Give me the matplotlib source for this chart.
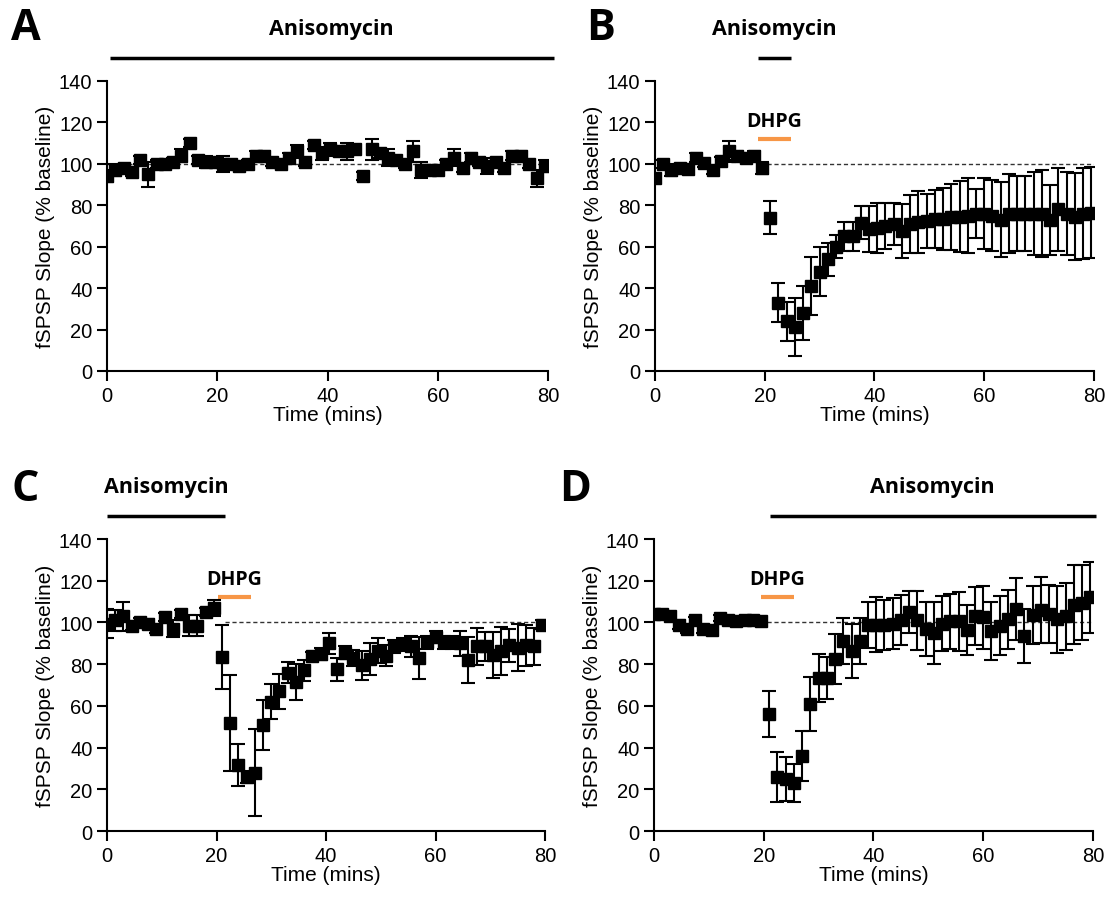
import numpy as np
import matplotlib.pyplot as plt
from matplotlib.transforms import blended_transform_factory

plt.rcParams['font.family'] = ['Liberation Sans', 'DejaVu Sans']

# sampling times (one point every 1.5 min)
TIME = np.arange(0, 80, 1.5)

A_MEAN = [94, 97, 98, 96, 102, 95, 100, 100, 101, 104,
          110, 102, 101, 101, 100, 100, 99, 100, 104, 104,
          101, 100, 103, 106, 101, 109, 105, 107, 106, 106,
          107, 94, 107, 105, 103, 102, 100, 106, 97, 97,
          97, 100, 103, 98, 103, 101, 99, 101, 98, 104,
          104, 100, 93, 99]
A_SEM = [3, 3, 2, 2, 2, 6, 2, 2, 2, 3,
         2, 2, 3, 2, 4, 2, 2, 2, 2, 2,
         2, 2, 2, 3, 2, 2, 3, 3, 2, 4,
         2, 2, 5, 2, 4, 2, 2, 5, 4, 2,
         2, 2, 4, 2, 2, 2, 4, 2, 2, 2,
         2, 2, 4, 3]

B_MEAN = [93, 100, 97, 98, 97.5, 103, 100.5, 97, 101.5, 106, 104, 103, 104, 98,
          74, 33, 24, 21, 28, 41, 48, 54, 60, 65, 65, 71.5,
          68.5, 69, 70, 71, 67.5, 71, 72, 72.5, 73.5, 73.5,
          74.5, 74.5, 75, 76, 76, 75, 73, 76, 76, 76,
          76, 76, 73, 78, 76, 74.5, 76, 76.5]
B_SEM = [2, 2, 3, 2, 2, 2, 2, 2, 2, 5, 2, 2, 2, 3,
         8, 9.5, 9.5, 14, 13, 14, 12, 8, 5.5, 7, 7, 8,
         11, 12, 11, 10, 13, 14, 15, 13, 14, 15,
         16, 17, 18, 12, 17, 17, 18, 19, 18, 18,
         20, 21, 17, 20, 20, 21, 22, 22]

C_MEAN = [99.5, 101, 103, 98.5, 100, 99.5, 97, 102.5, 97, 104, 98.5, 98.5, 105, 107,
          83.5, 52, 31.5, 26, 28, 51, 62, 67, 76, 71.5, 77, 84,
          85, 90, 77.5, 85.5, 83, 79.5, 82.5, 86.5, 84, 88.5,
          89.5, 88.5, 83, 90.5, 93, 90.5, 90.5, 90, 82, 88.5,
          88.5, 84.5, 86.5, 89, 88, 89, 88.5, 99]
C_SEM = [7, 5, 7, 2, 2, 2, 2, 2, 4, 2, 5, 5, 2, 4,
         15.5, 23, 10, 3, 21, 12, 8.5, 8.5, 5, 8.5, 5, 2,
         3, 5, 5.5, 3, 4, 7, 7.5, 6, 5, 3,
         3, 5, 10, 3, 3, 3, 3, 6, 11, 9,
         7, 11, 11.5, 8, 11.5, 10, 9, 2]

D_MEAN = [104, 104, 103, 99, 97, 101, 97, 96.5, 102, 101, 100.5, 101, 101, 100.5,
          56, 26, 25, 23, 36, 61, 73.5, 73.5, 82.5, 91, 86.5, 91,
          99, 99, 99, 99.5, 101, 105, 101, 97, 95, 99.5,
          100.5, 100.5, 96.5, 103, 102.5, 96, 98.5, 101.5, 106.5, 93.5,
          103.5, 106, 104, 101.5, 103, 108.5, 109.5, 112]
D_SEM = [1.5, 1.5, 1.5, 2, 2, 1.5, 2, 2, 1.5, 1.5, 1.5, 1.5, 1.5, 1.5,
         11, 12, 10.5, 9, 12, 13, 11.5, 10, 12, 11, 13, 11,
         11, 13, 12, 12, 12, 10, 14, 13, 15, 13,
         13, 14, 12, 14, 15, 14, 14, 14, 15, 13,
         14, 16, 14, 16, 16, 19, 18, 17]

# drug application windows (mins)
ANISO = {'A': (0.5, 81), 'B': (18.8, 24.7), 'C': (0, 21.5), 'D': (21.1, 80.5)}
DHPG = {'B': (18.8, 24.8), 'C': (20.3, 26.3), 'D': (19.5, 25.5)}
DASH_START = {'A': 0, 'B': 20.5, 'C': 21.5, 'D': 20.6}

panels = {
    'A': (A_MEAN, A_SEM, [0.0959, 0.5885, 0.3952, 0.3208]),
    'B': (B_MEAN, B_SEM, [0.5869, 0.5885, 0.3934, 0.3208]),
    'C': (C_MEAN, C_SEM, [0.0959, 0.0796, 0.3925, 0.3230]),
    'D': (D_MEAN, D_SEM, [0.5860, 0.0796, 0.3934, 0.3230]),
}
letter_pos = {'A': (0.023, 0.969), 'B': (0.538, 0.969),
              'C': (0.023, 0.458), 'D': (0.515, 0.458)}

fig = plt.figure(figsize=(11.16, 9.04), dpi=100)
bold_font = ['Open Sans', 'DejaVu Sans']

for key, (mean, sem, rect) in panels.items():
    ax = fig.add_axes(rect)
    ax.hlines(100, DASH_START[key], 80, colors='#333333', linestyles=(0, (3, 2)),
              linewidth=1, zorder=1)
    ax.errorbar(TIME, mean, yerr=sem, fmt='s', color='black', ms=8.5,
                elinewidth=1.5, capsize=5, capthick=1.5, zorder=3)
    ax.set_xlim(0, 80)
    ax.set_ylim(0, 140)
    ax.set_xticks(range(0, 81, 20))
    ax.set_yticks(range(0, 141, 20))
    ax.spines['top'].set_visible(False)
    ax.spines['right'].set_visible(False)
    ax.spines['left'].set_linewidth(1.5)
    ax.spines['bottom'].set_linewidth(1.5)
    ax.tick_params(labelsize=14.5, width=1.5, length=7.5, pad=3)
    ax.set_xlabel('Time (mins)', fontsize=15, labelpad=0)
    ax.set_ylabel('fSPSP Slope (% baseline)', fontsize=15, labelpad=3)

    trans = blended_transform_factory(ax.transData, ax.transAxes)
    x0, x1 = ANISO[key]
    ybar = 1.08
    ax.plot([x0, x1], [ybar, ybar], color='black', lw=2.5, transform=trans,
            clip_on=False, solid_capstyle='butt')
    ax.text((x0 + x1) / 2, ybar + 0.065, 'Anisomycin', transform=trans,
            ha='center', va='bottom', fontsize=15.5, fontweight='bold',
            family=bold_font)
    if key in DHPG:
        d0, d1 = DHPG[key]
        ax.plot([d0, d1], [112, 112], color='#F79646', lw=3,
                solid_capstyle='butt', clip_on=False)
        ax.text((d0 + d1) / 2, 116, 'DHPG', ha='center', va='bottom',
                fontsize=14, fontweight='bold', family=bold_font)

    fig.text(*letter_pos[key], key, fontsize=31, fontweight='bold',
             ha='center', va='center', family=bold_font)

fig.savefig('out.png', dpi=100)
